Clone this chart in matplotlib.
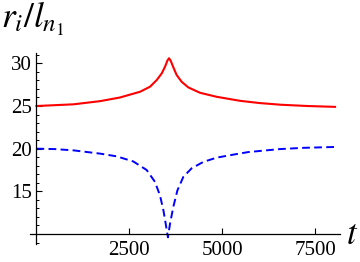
import matplotlib
matplotlib.use("Agg")
import matplotlib.pyplot as plt
from matplotlib.ticker import FixedLocator, MultipleLocator

plt.rcParams['font.family'] = ['Liberation Serif', 'DejaVu Serif']
plt.rcParams['mathtext.fontset'] = 'stix'

# data
t_red = [0, 1000, 1711, 2249, 2788, 3057, 3237, 3372, 3461, 3524, 3569,
         3614, 3686, 3775, 3910, 4089, 4404, 4852, 5480, 6000, 6580, 7300, 8040]
r_red = [25.0, 25.2, 25.57, 26.0, 26.67, 27.26, 28.04, 28.82, 29.6, 30.31, 30.6,
         30.31, 29.53, 28.63, 27.84, 27.18, 26.55, 26.08, 25.61, 25.35, 25.15, 25.0, 24.9]

t_blue = [0, 500, 1000, 1711, 2160, 2608, 2967, 3192, 3327, 3417, 3480, 3540,
          3596, 3686, 3794, 3955, 4179, 4494, 4852, 5300, 5700, 6550, 7200, 8040]
r_blue = [20.0, 19.95, 19.8, 19.42, 19.1, 18.5, 17.5, 16.1, 14.5, 12.8, 11.2, 9.6,
          11.2, 13.2, 15.1, 16.7, 17.7, 18.45, 18.95, 19.3, 19.6, 19.95, 20.1, 20.2]

x_ticks = [2500, 5000, 7500]
y_ticks = [15, 20, 25, 30]

W, H = 360, 262
fig = plt.figure(figsize=(W / 100, H / 100), dpi=100)
left, right, top, bottom = 30, 340, 52.7, 243.7
ax = fig.add_axes([left / W, 1 - bottom / H, (right - left) / W, (bottom - top) / H])

ax.plot(t_red, r_red, color='#ff0000', lw=1.5, solid_joinstyle='round')
ax.plot(t_blue, r_blue, color='#0000ff', lw=1.4, dashes=(4.0, 2.2))

ax.set_xlim(-174, 8173)
ax.set_ylim(8.86, 31.25)

for s in ['top', 'right']:
    ax.spines[s].set_visible(False)
ax.spines['left'].set_position(('data', 0))
ax.spines['bottom'].set_position(('data', 10))
for s in ['left', 'bottom']:
    ax.spines[s].set_linewidth(0.9)

ax.xaxis.set_major_locator(FixedLocator(x_ticks))
ax.yaxis.set_major_locator(FixedLocator(y_ticks))
ax.yaxis.set_minor_locator(MultipleLocator(1))
ax.tick_params(axis='both', which='major', direction='in', length=4, width=0.8,
               labelsize=15, pad=3)
ax.tick_params(axis='y', which='minor', direction='in', length=2.3, width=0.7)
ax.tick_params(axis='x', which='major', pad=5)

fig.text(1 / W, 1 - 28 / H, r'$r_i/l_{n_1}$', fontsize=25.5, va='baseline', ha='left')
fig.text(346 / W, 1 - 244 / H, r'$t$', fontsize=25, va='baseline', ha='left')

fig.savefig('out.png', dpi=100)
